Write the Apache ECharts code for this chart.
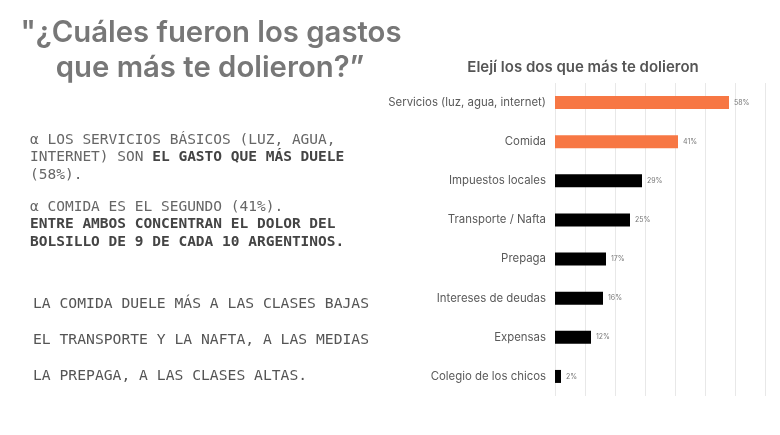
<!DOCTYPE html>
<html>
<head>
<meta charset="utf-8">
<script src="https://cdn.jsdelivr.net/npm/echarts@6/dist/echarts.min.js"></script>
<style>
  html, body { margin: 0; padding: 0; background: #fff; }
  #main { width: 780px; height: 435px; }
</style>
</head>
<body>
<div id="main"></div>
<script>
// datos de la encuesta
var categories = [
  'Servicios (luz, agua, internet)',
  'Comida',
  'Impuestos locales',
  'Transporte / Nafta',
  'Prepaga',
  'Intereses de deudas',
  'Expensas',
  'Colegio de los chicos'
]
var values = [58, 41, 29, 25, 17, 16, 12, 2]
var destacados = [true, true, false, false, false, false, false, false]
var xTicks = [0, 10, 20, 30, 40, 50, 60, 70]

var mono = '"DejaVu Sans Mono", "Liberation Mono", monospace'
var sans = 'Inter, "Noto Sans", sans-serif'

var chart = echarts.init(document.getElementById('main'))

var option = {
  backgroundColor: '#fff',
  animation: false,
  title: {
    text: 'Elejí los dos que más te dolieron',
    left: 578,
    textAlign: 'center',
    top: 55,
    textStyle: {
      fontFamily: sans,
      fontSize: 15,
      fontWeight: 600,
      color: '#555'
    }
  },
  grid: {
    left: 555,
    top: 83,
    width: 210,
    height: 313
  },
  xAxis: {
    type: 'value',
    min: xTicks[0],
    max: xTicks[xTicks.length - 1],
    interval: 10,
    axisLabel: { show: false },
    axisLine: { show: false },
    axisTick: { show: false },
    splitLine: { lineStyle: { color: '#e8e8e8', width: 1 } }
  },
  yAxis: {
    type: 'category',
    inverse: true,
    data: categories,
    axisLine: { show: false },
    axisTick: { show: false },
    axisLabel: {
      margin: 9,
      fontFamily: sans,
      fontSize: 11.4,
      color: '#5a5a5a'
    }
  },
  series: [
    {
      type: 'bar',
      barWidth: 13,
      data: values.map(function (v, i) {
        return {
          value: v,
          itemStyle: { color: destacados[i] ? '#f77744' : '#000' }
        }
      }),
      label: {
        show: true,
        position: 'right',
        distance: 5,
        formatter: '{c}%',
        fontFamily: sans,
        fontSize: 7,
        color: '#777'
      }
    }
  ],
  graphic: [
    {
      type: 'text',
      x: 211,
      y: 33,
      style: {
        text: '"¿Cuáles fueron los gastos',
        fontFamily: sans,
        fontSize: 29.3,
        fontWeight: 600,
        fill: '#777',
        align: 'center',
        verticalAlign: 'middle'
      }
    },
    {
      type: 'text',
      x: 210,
      y: 68,
      style: {
        text: 'que más te dolieron?”',
        fontFamily: sans,
        fontSize: 29.3,
        fontWeight: 600,
        fill: '#777',
        align: 'center',
        verticalAlign: 'middle'
      }
    },
    {
      type: 'text',
      x: 30,
      y: 131,
      style: {
        text: '{n|α LOS SERVICIOS BÁSICOS (LUZ, AGUA,}\n{n|INTERNET) SON }{b|EL GASTO QUE MÁS DUELE}\n{n|(58%).}',
        rich: {
          n: { fontFamily: mono, fontSize: 14.5, fill: '#666', lineHeight: 17.5 },
          b: { fontFamily: mono, fontSize: 14.5, fontWeight: 'bold', fill: '#444', lineHeight: 17.5 }
        }
      }
    },
    {
      type: 'text',
      x: 30,
      y: 198,
      style: {
        text: '{n|α COMIDA ES EL SEGUNDO (41%).}\n{b|ENTRE AMBOS CONCENTRAN EL DOLOR DEL}\n{b|BOLSILLO DE 9 DE CADA 10 ARGENTINOS.}',
        rich: {
          n: { fontFamily: mono, fontSize: 14.5, fill: '#666', lineHeight: 17.5 },
          b: { fontFamily: mono, fontSize: 14.5, fontWeight: 'bold', fill: '#444', lineHeight: 17.5 }
        }
      }
    },
    {
      type: 'text',
      x: 33,
      y: 286,
      style: {
        text: 'LA COMIDA DUELE MÁS A LAS CLASES BAJAS\nEL TRANSPORTE Y LA NAFTA, A LAS MEDIAS\nLA PREPAGA, A LAS CLASES ALTAS.',
        fontFamily: mono,
        fontSize: 14.7,
        lineHeight: 36,
        fill: '#555'
      }
    }
  ]
}

chart.setOption(option)
window.addEventListener('resize', function () {
  chart.resize()
})
</script>
</body>
</html>
